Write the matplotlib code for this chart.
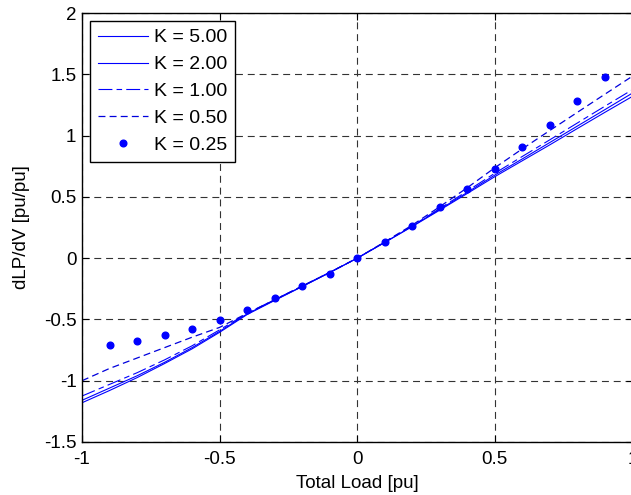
import matplotlib
matplotlib.use('Agg')
import matplotlib.pyplot as plt

plt.rcParams['font.family'] = ['Liberation Sans', 'DejaVu Sans']
plt.rcParams['axes.unicode_minus'] = False
plt.rcParams['lines.scale_dashes'] = False

# total load grid used for the curves [pu]
load = [-1.0, -0.9, -0.8, -0.7, -0.6, -0.5, -0.4, -0.3, -0.2, -0.1, 0.0,
        0.1, 0.2, 0.3, 0.4, 0.5, 0.6, 0.7, 0.8, 0.9, 1.0]

# dLP/dV for each K
k500 = [-1.18, -1.08, -0.975, -0.86, -0.74, -0.605, -0.46, -0.345, -0.232, -0.118, 0.0,
        0.128, 0.258, 0.392, 0.528, 0.665, 0.795, 0.925, 1.058, 1.19, 1.32]
k200 = [-1.16, -1.06, -0.96, -0.85, -0.73, -0.597, -0.455, -0.342, -0.23, -0.117, 0.0,
        0.129, 0.261, 0.398, 0.537, 0.678, 0.81, 0.944, 1.078, 1.212, 1.347]
k100 = [-1.125, -1.03, -0.935, -0.83, -0.715, -0.585, -0.45, -0.338, -0.228, -0.116, 0.0,
        0.13, 0.264, 0.405, 0.548, 0.693, 0.83, 0.966, 1.103, 1.24, 1.375]
k050 = [-1.0, -0.9, -0.815, -0.73, -0.645, -0.565, -0.45, -0.34, -0.228, -0.116, 0.0,
        0.133, 0.27, 0.42, 0.575, 0.738, 0.892, 1.042, 1.19, 1.338, 1.485]

# K = 0.25 only sampled at the inner points
load_pts = [-0.9, -0.8, -0.7, -0.6, -0.5, -0.4, -0.3, -0.2, -0.1, 0.0,
            0.1, 0.2, 0.3, 0.4, 0.5, 0.6, 0.7, 0.8, 0.9]
k025 = [-0.709, -0.676, -0.627, -0.579, -0.506, -0.424, -0.329, -0.23, -0.127, 0.0,
        0.13, 0.26, 0.414, 0.566, 0.73, 0.907, 1.088, 1.282, 1.477]

xticks = [-1, -0.5, 0, 0.5, 1]
xticklabels = ['-1', '-0.5', '0', '0.5', '1']
yticks = [-1.5, -1, -0.5, 0, 0.5, 1, 1.5, 2]
yticklabels = ['-1.5', '-1', '-0.5', '0', '0.5', '1', '1.5', '2']

fig = plt.figure(figsize=(6.31, 4.95), dpi=100)
ax = fig.add_axes([82/631, 53/495, 550.5/631, 429/495])

ax.plot(load, k500, '-', color='b', lw=0.8, label='K = 5.00')
ax.plot(load, k200, '-', color='b', lw=0.8, label='K = 2.00')
ax.plot(load, k100, color='b', lw=0.8, dashes=(10, 3, 4, 3), label='K = 1.00')
ax.plot(load, k050, color='#0000dd', lw=0.9, dashes=(5, 3), label='K = 0.50')
ax.plot(load_pts, k025, 'o', color='b', ms=4.8, mec='b', label='K = 0.25')

ax.set_xlim(-1, 1)
ax.set_ylim(-1.5, 2)
ax.set_xticks(xticks)
ax.set_xticklabels(xticklabels)
ax.set_yticks(yticks)
ax.set_yticklabels(yticklabels)
ax.tick_params(direction='in', length=5, width=0.8, labelsize=13.5,
               top=True, right=True)
ax.tick_params(axis='x', pad=6.5)
ax.tick_params(axis='y', pad=4)
ax.grid(True, color='0.2', lw=0.8, dashes=(5, 3.5))
for s in ax.spines.values():
    s.set_linewidth(1.0)

ax.set_xlabel('Total Load [pu]', fontsize=13.5, labelpad=5)
ax.set_ylabel('dLP/dV [pu/pu]', fontsize=13.5, labelpad=10)

leg = ax.legend(loc='upper left', bbox_to_anchor=(8/550, 1 - 8/429),
                borderaxespad=0, fontsize=14, fancybox=False, framealpha=1,
                edgecolor='k', handlelength=2.6, handletextpad=0.28,
                labelspacing=0.48, borderpad=0.4, numpoints=1)
leg.get_frame().set_linewidth(1.0)

fig.savefig('out.png', dpi=100)
